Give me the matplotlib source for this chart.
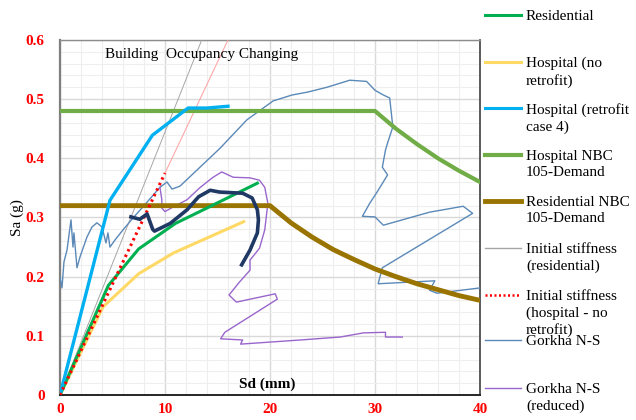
import matplotlib
matplotlib.use('Agg')
import matplotlib.pyplot as plt
from matplotlib.lines import Line2D
from matplotlib.ticker import MultipleLocator, FuncFormatter

plt.rcParams['font.family'] = ['Liberation Serif', 'DejaVu Serif']

# capacity curves (Sd mm, Sa g)
res_sd = [0, 4.6, 7.5, 11.0, 14.0, 18.8]
res_sa = [0, 0.185, 0.247, 0.29, 0.316, 0.358]

hosp_sd = [0, 4.1, 7.5, 10.8, 17.5]
hosp_sa = [0, 0.149, 0.205, 0.24, 0.293]

retro_sd = [0, 4.76, 8.8, 12.2, 14.0, 16.0]
retro_sa = [0, 0.329, 0.439, 0.485, 0.485, 0.488]

# demand spectra
nbc_hosp_sd = [0, 30, 32, 34, 36, 38, 40]
nbc_hosp_sa = [0.48, 0.48, 0.45, 0.424, 0.40, 0.379, 0.36]

nbc_res_sd = [0, 20, 22, 24, 26, 28, 30, 32, 34, 36, 38, 40]
nbc_res_sa = [0.32, 0.32, 0.291, 0.267, 0.246, 0.229, 0.213, 0.2, 0.188, 0.178, 0.168, 0.16]

# initial stiffness lines
k_res_sd = [0, 13.5]
k_res_sa = [0, 0.6]
k_hosp_sd = [0, 10.0]
k_hosp_sa = [0, 0.375]
k_hosp_ext_sd = [10.0, 16.0]
k_hosp_ext_sa = [0.375, 0.6]

# Gorkha N-S
gork_sd = [0, 0.19, 0.38, 0.67, 1.05, 1.24, 1.33, 1.62, 1.9, 2.57, 3.05, 3.52, 4.0, 4.38,
           4.57, 4.76, 5.24, 6.0, 6.95, 7.9, 9.52, 10.19, 10.67, 11.43, 15.24, 17.8, 20.3,
           22.1, 23.6, 25.4, 27.6, 29.2, 30.0, 30.8, 31.4, 31.7, 31.2, 31.0, 30.7, 31.2,
           30.2, 29.5, 28.8, 30.0, 30.8, 35.2, 38.4, 39.3, 30.7, 30.3, 35.7, 35.2, 35.9, 40.0]
gork_sa = [0.199, 0.181, 0.225, 0.245, 0.296, 0.25, 0.274, 0.215, 0.233, 0.267, 0.284, 0.291,
           0.284, 0.257, 0.274, 0.25, 0.262, 0.279, 0.299, 0.318, 0.351, 0.36, 0.348, 0.353,
           0.417, 0.465, 0.497, 0.507, 0.512, 0.52, 0.532, 0.53, 0.515, 0.507, 0.502, 0.453,
           0.426, 0.414, 0.385, 0.372, 0.343, 0.324, 0.302, 0.301, 0.287, 0.309, 0.319, 0.307,
           0.215, 0.188, 0.193, 0.177, 0.172, 0.181]

# Gorkha N-S (reduced)
gred_sd = [9.52, 9.7, 9.7, 10.0, 10.8, 12.1, 13.3, 14.5, 15.4, 16.5, 18.1, 19.0, 19.5, 19.8,
           19.5, 19.0, 18.1, 18.1, 17.1, 16.1, 16.8, 20.5, 20.7, 15.7, 15.3, 17.4, 17.2, 22.9,
           26.7, 28.9, 31.0, 31.0, 32.6]
gred_sa = [0.351, 0.33, 0.316, 0.31, 0.318, 0.33, 0.35, 0.367, 0.377, 0.368, 0.367, 0.363,
           0.351, 0.324, 0.279, 0.248, 0.228, 0.211, 0.191, 0.169, 0.157, 0.171, 0.162, 0.106,
           0.095, 0.093, 0.086, 0.093, 0.098, 0.105, 0.106, 0.098, 0.098]

# unlabelled performance curve
perf_sd = [6.76, 7.6, 8.3, 8.83, 9.0, 10.5, 12.1, 13.2, 14.3, 15.2, 17.4, 18.3, 18.8, 18.9,
           18.8, 18.1, 17.3]
perf_sa = [0.301, 0.297, 0.306, 0.28, 0.277, 0.29, 0.313, 0.335, 0.346, 0.343, 0.341, 0.333,
           0.313, 0.296, 0.274, 0.245, 0.22]

fig = plt.figure(figsize=(6.36, 4.2), dpi=100)
ax = fig.add_axes([0.0943, 0.0595, 0.6604, 0.8453])

ax.plot(k_res_sd, k_res_sa, color='#A6A6A6', lw=0.7, zorder=3)
ax.plot(k_hosp_ext_sd, k_hosp_ext_sa, color='#FF9E9E', lw=0.7, zorder=3)
ax.plot(gork_sd, gork_sa, color='#5B89B8', lw=1.0, zorder=4)
ax.plot(gred_sd, gred_sa, color='#9966CC', lw=1.0, zorder=4)
ax.plot(nbc_hosp_sd, nbc_hosp_sa, color='#70AD47', lw=3.0, zorder=5)
ax.plot(nbc_res_sd, nbc_res_sa, color='#9A7400', lw=3.5, zorder=5)
ax.plot(hosp_sd, hosp_sa, color='#FFD966', lw=2.2, zorder=6)
ax.plot(res_sd, res_sa, color='#00B050', lw=2.2, zorder=6)
ax.plot(retro_sd, retro_sa, color='#00B0F0', lw=2.4, zorder=6)
ax.plot(k_hosp_sd, k_hosp_sa, color='#FF0000', lw=2.2, ls=(0, (0.8, 1.2)), zorder=7)
ax.plot(perf_sd, perf_sa, color='#203864', lw=2.6, zorder=7)

ax.set_xlim(0, 40)
ax.set_ylim(0, 0.6)
ax.xaxis.set_major_locator(MultipleLocator(10))
ax.yaxis.set_major_locator(MultipleLocator(0.1))
ax.xaxis.set_minor_locator(MultipleLocator(2))
ax.yaxis.set_minor_locator(MultipleLocator(0.02))
ax.yaxis.set_major_formatter(FuncFormatter(lambda v, p: '0' if abs(v) < 1e-9 else f'{v:.1f}'))
ax.grid(which='major', color='#D9D9D9', lw=1.0, zorder=0)
ax.grid(which='minor', color='#EEEEEE', lw=0.8, zorder=0)
ax.set_axisbelow(True)
ax.tick_params(which='both', length=0)
ax.tick_params(axis='y', pad=11)
ax.tick_params(axis='x', pad=6)
for lab in ax.get_xticklabels() + ax.get_yticklabels():
    lab.set_color('#FF0000')
    lab.set_fontweight('bold')
    lab.set_fontsize(11)

ax.spines['left'].set_color('#7F7F7F')
ax.spines['left'].set_linewidth(1.6)
ax.spines['top'].set_color('#8C8C8C')
ax.spines['top'].set_linewidth(1.0)
ax.spines['right'].set_color('#404040')
ax.spines['right'].set_linewidth(1.2)
ax.spines['bottom'].set_color('#262626')
ax.spines['bottom'].set_linewidth(1.4)

ax.set_ylabel('Sa (g)', fontsize=11)
ax.yaxis.set_label_coords(-0.085, 0.5)
ax.text(19.7, 0.018, 'Sd (mm)', fontsize=11, fontweight='bold', ha='center', va='center')
ax.text(13.5, 0.576, 'Building  Occupancy Changing', fontsize=11, ha='center', va='center')

# legend, laid out like the Excel one on the right
leg_labels = ['Residential', 'Hospital (no\nretrofit)', 'Hospital (retrofit\ncase 4)',
              'Hospital NBC\n105-Demand', 'Residential NBC\n105-Demand',
              'Initial stiffness\n(residential)', 'Initial stiffness\n(hospital - no\nretrofit)',
              'Gorkha N-S', 'Gorkha N-S\n(reduced)']
leg_colors = ['#00B050', '#FFD966', '#00B0F0', '#70AD47', '#9A7400', '#A6A6A6', '#FF0000',
              '#5B89B8', '#9966CC']
leg_widths = [2.2, 2.2, 2.2, 3.0, 3.5, 1.0, 1.8, 1.0, 1.0]
leg_styles = ['-', '-', '-', '-', '-', '-', (0, (0.8, 1.0)), '-', '-']
leg_y = [15, 62, 108, 155, 201, 248, 295, 340, 388]
for lab, col, lw, ls, y in zip(leg_labels, leg_colors, leg_widths, leg_styles, leg_y):
    fy = 1 - y / 420
    fig.add_artist(Line2D([485 / 636, 521 / 636], [fy, fy], color=col, lw=lw, ls=ls))
    fig.text(526 / 636, fy + 5 / 420, lab, fontsize=11, va='top', ha='left', linespacing=1.3)

fig.savefig('out.png', dpi=100)
